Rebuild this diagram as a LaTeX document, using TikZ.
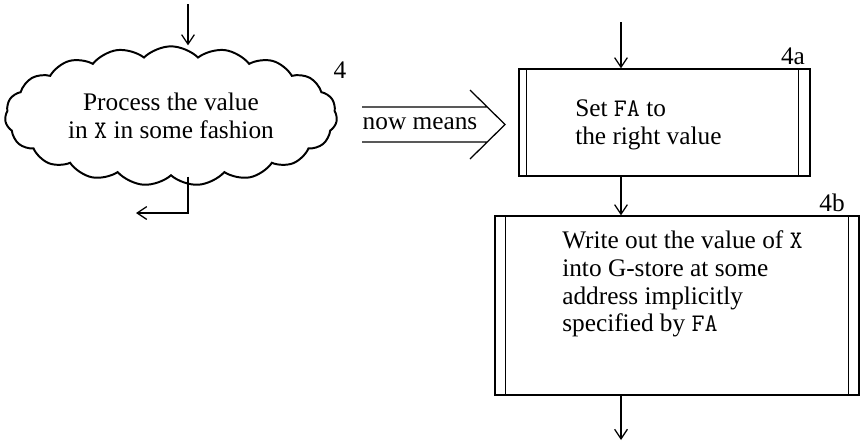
\documentclass[tikz,border=0pt]{standalone}
\usepackage{fontspec}
\setmainfont{Liberation Serif}
\usetikzlibrary{arrows.meta, shapes.symbols, positioning}

\tikzset{
  flow/.style = {-{Straight Barb[length=2.4mm, width=3.2mm]}, line width=.9pt},
  subproc/.style = {draw, line width=.9pt, inner sep=0pt},
  bar/.style = {line width=.9pt},
  txt/.style = {inner sep=0pt, align=left},
}

\begin{document}
\begin{tikzpicture}[x=0.025cm, y=-0.025cm, font=\fontsize{18}{19.7}\selectfont]

\useasboundingbox (0,0) rectangle (861,443);

% the vague step
\node (proc) at (171,116) [cloud, aspect=2.4, cloud puffs=19, cloud puff arc=90, draw, line width=1.4pt, minimum width=8.3cm, minimum height=3.05cm, inner sep=0pt, align=center] {Process the value\\in \texttt{X} in some fashion};
\node (lab4) at (340,70) [inner sep=0pt] {4};

\node (means) at (420,124) [inner sep=0pt] {now means};
\draw [bar] (362,107) -- (487,107) (362,142) -- (487,142) (470,90) -- (505,124.5) -- (470,159);

% the two steps it stands for
\node (seta) at (664.5,122.5) [subproc, minimum width=7.275cm, minimum height=2.675cm] {};
\draw [bar] ([xshift=.2cm]seta.north west) -- ([xshift=.2cm]seta.south west);
\draw [bar] ([xshift=-.3cm]seta.north east) -- ([xshift=-.3cm]seta.south east);
\node (setatxt) at (575,125) [txt, anchor=west] {Set \texttt{FA} to\\the right value};
\node (lab4a) at (793,56) [inner sep=0pt] {4a};

\node (write) at (677,305.5) [subproc, minimum width=9.1cm, minimum height=4.475cm] {};
\draw [bar] ([xshift=.275cm]write.north west) -- ([xshift=.275cm]write.south west);
\draw [bar] ([xshift=-.275cm]write.north east) -- ([xshift=-.275cm]write.south east);
\node (writetxt) at (562,284) [txt, anchor=west] {Write out the value of \texttt{X}\\into G-store at some\\address implicitly\\specified by \texttt{FA}};
\node (lab4b) at (832,203) [inner sep=0pt] {4b};

% flow lines
\coordinate (top4) at (188,4);
\coordinate (exit4) at (136,213);
\coordinate (top4a) at (621,22);
\coordinate (end4b) at (621,440);

\draw [flow] (top4) -- (top4 |- proc.north);
\draw [flow] (top4 |- proc.south) |- (exit4);
\draw [flow] (top4a) -- (top4a |- seta.north);
\draw [flow] (top4a |- seta.south) -- (top4a |- write.north);
\draw [flow] (top4a |- write.south) -- (end4b);

\end{tikzpicture}
\end{document}
